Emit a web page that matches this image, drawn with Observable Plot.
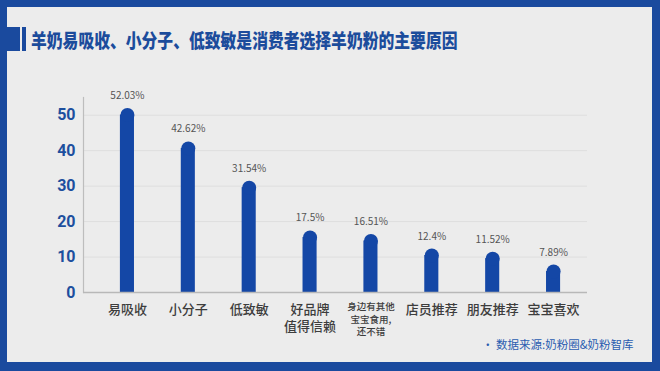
<!DOCTYPE html>
<html>
<head>
<meta charset="utf-8">
<script src="https://cdn.jsdelivr.net/npm/d3@7"></script>
<script src="https://cdn.jsdelivr.net/npm/@observablehq/plot@0.6"></script>
<style>
  html, body { margin: 0; padding: 0; background: #1a4a9e; }
  #frame { position: relative; width: 660px; height: 371px; background: #1a4a9e; overflow: hidden; font-family: "Noto Sans CJK SC", "Noto Sans", sans-serif; }
  #card { position: absolute; left: 7px; top: 7px; width: 645px; height: 355px; background: #ececec; }
  .blk { position: absolute; background: #1a4a9e; }
  #title { position: absolute; left: 31px; top: 27px; height: 26px; line-height: 26px; font-size: 19.5px; font-weight: 900; color: #1c4c9c; white-space: nowrap; transform: scaleX(0.81); transform-origin: left center; }
  #chart { position: absolute; left: 0; top: 0; }
  #source { position: absolute; left: 482px; top: 335px; font-size: 11.5px; line-height: 18px; color: #2a5cb0; white-space: nowrap; }
</style>
</head>
<body>
<div id="frame">
  <div id="card"></div>
  <div class="blk" style="left:7px;top:27px;width:13px;height:24px;"></div>
  <div class="blk" style="left:22px;top:27px;width:4px;height:24px;"></div>
  <div id="title">羊奶易吸收、小分子、低致敏是消费者选择羊奶粉的主要原因</div>
  <div id="chart"></div>
  <div id="source">· 数据来源:奶粉圈&amp;奶粉智库</div>
</div>
<script>
const categories = ["易吸收", "小分子", "低致敏", "好品牌\n值得信赖", "身边有其他\n宝宝食用,\n还不错", "店员推荐", "朋友推荐", "宝宝喜欢"];
const values = [52.03, 42.62, 31.54, 17.5, 16.51, 12.4, 11.52, 7.89];
const labelSizes = [13, 13, 13, 13, 9.5, 13, 13, 13];
const yTicks = [0, 10, 20, 30, 40, 50];

const data = categories.map((c, i) => ({cat: c, value: values[i], size: labelSizes[i]}));
const blue = "#1447a6";

const chart = Plot.plot({
  width: 660,
  height: 371,
  marginTop: 97,
  marginBottom: 79,
  marginLeft: 83,
  marginRight: 73,
  style: {background: "transparent", fontFamily: "\"Noto Sans CJK SC\", \"Noto Sans\", sans-serif"},
  x: {domain: categories, range: [96.5, 583.5], padding: 0, round: false, axis: null},
  y: {domain: [0, 55], axis: null},
  marks: [
    Plot.ruleY(yTicks.slice(1), {stroke: "#dedede", strokeWidth: 1}),
    Plot.frame({anchor: "left", stroke: "#bdbdbd", strokeWidth: 1.2}),
    Plot.axisY(yTicks, {label: null, tickSize: 0, tickPadding: 8, fontSize: 16, fontWeight: "bold", fill: "#1d4f9e", fontFamily: "Roboto, \"Noto Sans\", sans-serif"}),
    Plot.barY(data, {x: "cat", y: "value", fill: blue, insetTop: 7, insetLeft: 23.4, insetRight: 23.4}),
    Plot.dot(data, {x: "cat", y: "value", r: 7, dy: 7, fill: blue, stroke: "none"}),
    Plot.ruleY([0], {stroke: "#b8b8b8", strokeWidth: 1.5}),
    Plot.text(data, {x: "cat", y: "value", text: d => `${d.value}%`, dy: -9, fontSize: 10, fill: "#555", lineAnchor: "bottom"}),
    Plot.text(data, {x: "cat", y: () => 0, text: "cat", fontSize: "size", dy: 9, lineAnchor: "top", lineHeight: 1.32, fill: "#3d3d3d", fontWeight: 500})
  ]
});
document.getElementById("chart").appendChild(chart);
</script>
</body>
</html>
